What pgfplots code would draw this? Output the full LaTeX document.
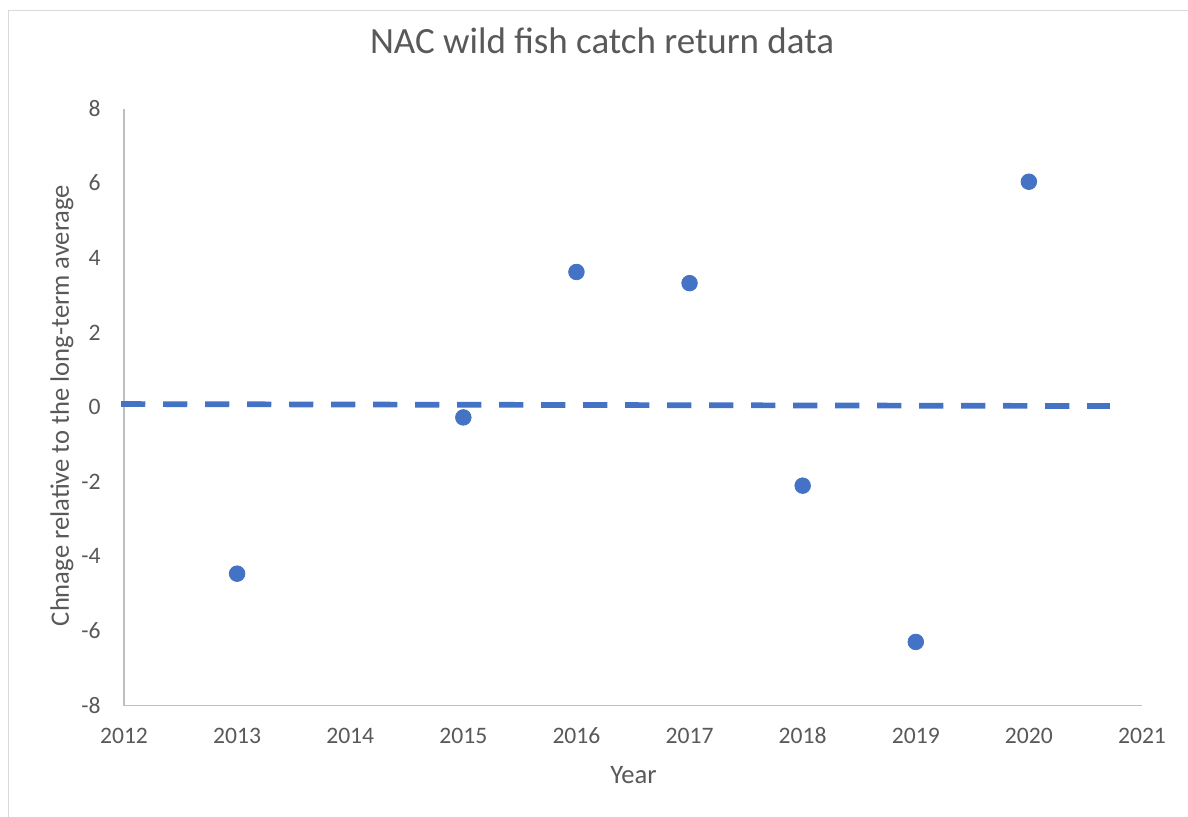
\documentclass[border=0pt]{standalone}
\usepackage{fontspec}
\setmainfont{Carlito}
\usepackage{pgfplots}
\pgfplotsset{compat=1.18}
\definecolor{txt}{HTML}{595959}
\definecolor{ax}{HTML}{BFBFBF}
\definecolor{frm}{HTML}{D9D9D9}
\definecolor{blu}{HTML}{4472C4}
\begin{document}
\begin{tikzpicture}
\useasboundingbox (0pt,0pt) rectangle (594pt,408.5pt);
\fill[white] (0pt,0pt) rectangle (594pt,408.5pt);
\draw[frm, line width=0.6pt] (4.25pt,0pt) -- (4.25pt,403.25pt) -- (594pt,403.25pt);
\begin{axis}[
  at={(62pt,55.65pt)}, anchor=south west,
  scale only axis, width=509pt, height=298.35pt,
  xmin=2012, xmax=2021, ymin=-8, ymax=8,
  clip=false,
  xtick={2012,2013,2014,2015,2016,2017,2018,2019,2020,2021},
  xticklabels={2012,2013,2014,2015,2016,2017,2018,2019,2020,2021},
  ytick={-8,-6,-4,-2,0,2,4,6,8},
  yticklabels={-8,-6,-4,-2,0,2,4,6,8},
  axis x line*=bottom, axis y line*=left,
  axis line style={ax, line width=0.6pt, -},
  major tick length=0pt, tick style={draw=none},
  ticklabel style={font=\fontsize{11.8}{13}\selectfont, text=txt, inner sep=0pt},
  xticklabel style={anchor=base, yshift=-19.15pt},
  yticklabel style={anchor=base east, xshift=-11.5pt, yshift=-3.7pt},
  title={NAC wild fish catch return data},
  title style={at={(axis description cs:0.4696,1.0721)}, anchor=base, font=\fontsize{18.5}{21}\selectfont, text=txt, inner sep=0pt},
  xlabel={Year},
  xlabel style={at={(axis description cs:0.5005,-0.1312)}, anchor=base, font=\fontsize{13.3}{15}\selectfont, text=txt, inner sep=0pt},
  ylabel={Chnage relative to the long-term average},
  ylabel style={at={(axis description cs:-0.0609,0.5031)}, anchor=center, font=\fontsize{13.3}{15}\selectfont, text=txt, inner sep=0pt},
]
\addplot[blu, line width=2.85pt, line cap=rect, dash pattern=on 9.2pt off 11.8pt, no marks] coordinates {(2012,0.088) (2020.69,0.035)};
\addplot[only marks, mark=*, mark size=3.9pt, mark options={draw=blu, fill=blu}] coordinates {
(2013,-4.46) (2015,-0.27) (2016,3.63) (2017,3.33) (2018,-2.10) (2019,-6.29) (2020,6.05)
};
\end{axis}
\end{tikzpicture}
\end{document}
